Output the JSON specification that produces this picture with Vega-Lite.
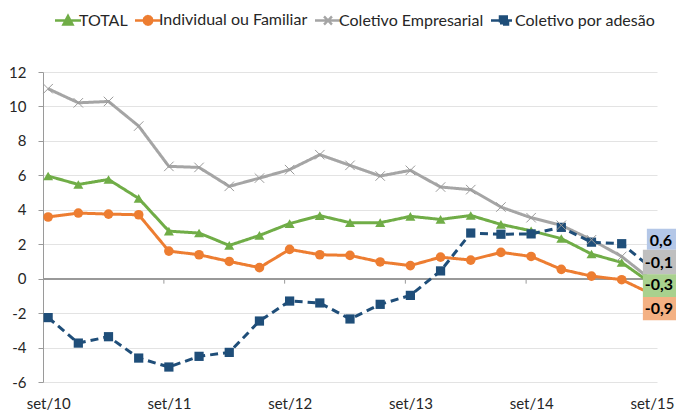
{
  "$schema": "https://vega.github.io/schema/vega-lite/v6.json",
  "autosize": {"type": "none"},
  "width": 614,
  "height": 310,
  "padding": {"left": 43, "top": 72, "right": 19, "bottom": 32},
  "config": {
    "view": {"stroke": null},
    "font": "Lato",
    "axis": {"labelFont": "Lato", "labelFontSize": 15, "labelColor": "#262626", "title": null}
  },
  "data": {"values": [
    {"periodo":"set/10","serie":"TOTAL","valor":5.96},{"periodo":"dez/10","serie":"TOTAL","valor":5.47},{"periodo":"mar/11","serie":"TOTAL","valor":5.76},{"periodo":"jun/11","serie":"TOTAL","valor":4.66},{"periodo":"set/11","serie":"TOTAL","valor":2.76},{"periodo":"dez/11","serie":"TOTAL","valor":2.65},{"periodo":"mar/12","serie":"TOTAL","valor":1.93},{"periodo":"jun/12","serie":"TOTAL","valor":2.51},{"periodo":"set/12","serie":"TOTAL","valor":3.2},{"periodo":"dez/12","serie":"TOTAL","valor":3.66},{"periodo":"mar/13","serie":"TOTAL","valor":3.25},{"periodo":"jun/13","serie":"TOTAL","valor":3.25},{"periodo":"set/13","serie":"TOTAL","valor":3.62},{"periodo":"dez/13","serie":"TOTAL","valor":3.44},{"periodo":"mar/14","serie":"TOTAL","valor":3.67},{"periodo":"jun/14","serie":"TOTAL","valor":3.15},{"periodo":"set/14","serie":"TOTAL","valor":2.78},{"periodo":"dez/14","serie":"TOTAL","valor":2.33},{"periodo":"mar/15","serie":"TOTAL","valor":1.43},{"periodo":"jun/15","serie":"TOTAL","valor":0.94},{"periodo":"set/15","serie":"TOTAL","valor":-0.3},
    {"periodo":"set/10","serie":"Individual ou Familiar","valor":3.58},{"periodo":"dez/10","serie":"Individual ou Familiar","valor":3.81},{"periodo":"mar/11","serie":"Individual ou Familiar","valor":3.75},{"periodo":"jun/11","serie":"Individual ou Familiar","valor":3.71},{"periodo":"set/11","serie":"Individual ou Familiar","valor":1.6},{"periodo":"dez/11","serie":"Individual ou Familiar","valor":1.39},{"periodo":"mar/12","serie":"Individual ou Familiar","valor":1.0},{"periodo":"jun/12","serie":"Individual ou Familiar","valor":0.64},{"periodo":"set/12","serie":"Individual ou Familiar","valor":1.7},{"periodo":"dez/12","serie":"Individual ou Familiar","valor":1.39},{"periodo":"mar/13","serie":"Individual ou Familiar","valor":1.35},{"periodo":"jun/13","serie":"Individual ou Familiar","valor":0.97},{"periodo":"set/13","serie":"Individual ou Familiar","valor":0.76},{"periodo":"dez/13","serie":"Individual ou Familiar","valor":1.25},{"periodo":"mar/14","serie":"Individual ou Familiar","valor":1.08},{"periodo":"jun/14","serie":"Individual ou Familiar","valor":1.53},{"periodo":"set/14","serie":"Individual ou Familiar","valor":1.29},{"periodo":"dez/14","serie":"Individual ou Familiar","valor":0.54},{"periodo":"mar/15","serie":"Individual ou Familiar","valor":0.15},{"periodo":"jun/15","serie":"Individual ou Familiar","valor":-0.06},{"periodo":"set/15","serie":"Individual ou Familiar","valor":-0.9},
    {"periodo":"set/10","serie":"Coletivo Empresarial","valor":11.03},{"periodo":"dez/10","serie":"Coletivo Empresarial","valor":10.21},{"periodo":"mar/11","serie":"Coletivo Empresarial","valor":10.29},{"periodo":"jun/11","serie":"Coletivo Empresarial","valor":8.86},{"periodo":"set/11","serie":"Coletivo Empresarial","valor":6.52},{"periodo":"dez/11","serie":"Coletivo Empresarial","valor":6.46},{"periodo":"mar/12","serie":"Coletivo Empresarial","valor":5.36},{"periodo":"jun/12","serie":"Coletivo Empresarial","valor":5.84},{"periodo":"set/12","serie":"Coletivo Empresarial","valor":6.33},{"periodo":"dez/12","serie":"Coletivo Empresarial","valor":7.2},{"periodo":"mar/13","serie":"Coletivo Empresarial","valor":6.58},{"periodo":"jun/13","serie":"Coletivo Empresarial","valor":5.96},{"periodo":"set/13","serie":"Coletivo Empresarial","valor":6.29},{"periodo":"dez/13","serie":"Coletivo Empresarial","valor":5.32},{"periodo":"mar/14","serie":"Coletivo Empresarial","valor":5.17},{"periodo":"jun/14","serie":"Coletivo Empresarial","valor":4.16},{"periodo":"set/14","serie":"Coletivo Empresarial","valor":3.54},{"periodo":"dez/14","serie":"Coletivo Empresarial","valor":3.1},{"periodo":"mar/15","serie":"Coletivo Empresarial","valor":2.26},{"periodo":"jun/15","serie":"Coletivo Empresarial","valor":1.29},{"periodo":"set/15","serie":"Coletivo Empresarial","valor":-0.1},
    {"periodo":"set/10","serie":"Coletivo por adesão","valor":-2.26},{"periodo":"dez/10","serie":"Coletivo por adesão","valor":-3.74},{"periodo":"mar/11","serie":"Coletivo por adesão","valor":-3.37},{"periodo":"jun/11","serie":"Coletivo por adesão","valor":-4.61},{"periodo":"set/11","serie":"Coletivo por adesão","valor":-5.13},{"periodo":"dez/11","serie":"Coletivo por adesão","valor":-4.51},{"periodo":"mar/12","serie":"Coletivo por adesão","valor":-4.28},{"periodo":"jun/12","serie":"Coletivo por adesão","valor":-2.46},{"periodo":"set/12","serie":"Coletivo por adesão","valor":-1.3},{"periodo":"dez/12","serie":"Coletivo por adesão","valor":-1.41},{"periodo":"mar/13","serie":"Coletivo por adesão","valor":-2.34},{"periodo":"jun/13","serie":"Coletivo por adesão","valor":-1.49},{"periodo":"set/13","serie":"Coletivo por adesão","valor":-0.97},{"periodo":"dez/13","serie":"Coletivo por adesão","valor":0.45},{"periodo":"mar/14","serie":"Coletivo por adesão","valor":2.65},{"periodo":"jun/14","serie":"Coletivo por adesão","valor":2.58},{"periodo":"set/14","serie":"Coletivo por adesão","valor":2.6},{"periodo":"dez/14","serie":"Coletivo por adesão","valor":2.98},{"periodo":"mar/15","serie":"Coletivo por adesão","valor":2.12},{"periodo":"jun/15","serie":"Coletivo por adesão","valor":2.03},{"periodo":"set/15","serie":"Coletivo por adesão","valor":0.6}
  ]},
  "encoding": {
    "x": {"field": "periodo", "type": "ordinal",
      "scale": {"type": "point", "padding": 0.17, "domain": ["set/10","dez/10","mar/11","jun/11","set/11","dez/11","mar/12","jun/12","set/12","dez/12","mar/13","jun/13","set/13","dez/13","mar/14","jun/14","set/14","dez/14","mar/15","jun/15","set/15"]},
      "axis": {"values": ["set/10","set/11","set/12","set/13","set/14","set/15"], "labelAngle": 0, "domain": false, "ticks": false, "grid": false, "labelPadding": 14}},
    "y": {"field": "valor", "type": "quantitative",
      "scale": {"domain": [-6, 12], "nice": false, "zero": false},
      "axis": {"values": [-6,-4,-2,0,2,4,6,8,10,12], "labelExpr": "replace(datum.label, '−', '-')", "grid": true, "gridColor": "#E3E3E3", "gridWidth": 1, "domainColor": "#9A9A9A", "tickColor": "#9A9A9A", "tickSize": 5, "labelPadding": 12}}
  },
  "layer": [
    {"mark": {"type": "rule", "color": "#9A9A9A", "strokeWidth": 1}, "encoding": {"y": {"datum": 0}, "x": {"value": 0}, "x2": {"value": 614}}},
    {"transform": [{"filter": "datum.serie === 'TOTAL' && indexof(['set/11','set/12','set/13','set/14'], datum.periodo) >= 0"}],
      "mark": {"type": "rule", "color": "#9A9A9A", "strokeWidth": 1, "xOffset": -5},
      "encoding": {"y": {"datum": 0}, "y2": {"datum": -0.29}}},
    {"mark": {"type": "line", "strokeWidth": 3},
      "encoding": {
        "color": {"field": "serie", "type": "nominal",
          "scale": {"domain": ["TOTAL","Individual ou Familiar","Coletivo Empresarial","Coletivo por adesão"], "range": ["#70AD47","#ED7D31","#A5A5A5","#1F4E79"]},
          "legend": {"orient": "none", "legendX": 9, "legendY": -60, "direction": "horizontal", "title": null, "padding": 0,
            "symbolSize": 100, "symbolStrokeWidth": 2.5, "labelFont": "Lato", "labelFontSize": 16, "labelColor": "#262626", "labelOffset": 11, "columnPadding": 2, "labelLimit": 300,
            "encode": {"symbols": {"update": {
              "shape": {"signal": "datum.value==='TOTAL' ? 'M-1,0H4.2M0.7,0.8L1.6,-0.9L2.5,0.8Z' : datum.value==='Individual ou Familiar' ? 'M-1,0H4.2M2.45,0L2.336,0.425L2.025,0.736L1.6,0.85L1.175,0.736L0.864,0.425L0.75,0L0.864,-0.425L1.175,-0.736L1.6,-0.85L2.025,-0.736L2.336,-0.425Z' : datum.value==='Coletivo Empresarial' ? 'M-1,0H4.2M0.8,-0.8L2.4,0.8M0.8,0.8L2.4,-0.8' : 'M-1,0H4.2M0.8,-0.8H2.4V0.8H0.8Z'"},
              "fill": {"signal": "datum.value==='TOTAL' ? '#70AD47' : datum.value==='Individual ou Familiar' ? '#ED7D31' : datum.value==='Coletivo por adesão' ? '#1F4E79' : 'transparent'"},
              "stroke": {"signal": "datum.value==='TOTAL' ? '#70AD47' : datum.value==='Individual ou Familiar' ? '#ED7D31' : datum.value==='Coletivo por adesão' ? '#1F4E79' : '#A5A5A5'"},
              "fillOpacity": {"value": 1}, "strokeOpacity": {"value": 1}, "opacity": {"value": 1}, "strokeDash": {"value": []}
            }}}}},
        "strokeDash": {"field": "serie", "type": "nominal", "legend": null,
          "scale": {"domain": ["TOTAL","Individual ou Familiar","Coletivo Empresarial","Coletivo por adesão"], "range": [[1,0],[1,0],[1,0],[8,5]]}}
      }},
    {"transform": [{"filter": "datum.serie !== 'Coletivo Empresarial'"}],
      "mark": {"type": "point", "filled": true, "opacity": 1},
      "encoding": {
        "color": {"field": "serie", "type": "nominal"},
        "shape": {"field": "serie", "type": "nominal", "legend": null,
          "scale": {"domain": ["TOTAL","Individual ou Familiar","Coletivo por adesão"], "range": ["triangle-up","circle","square"]}},
        "size": {"field": "serie", "type": "nominal", "legend": null,
          "scale": {"domain": ["TOTAL","Individual ou Familiar","Coletivo por adesão"], "range": [100, 85, 78]}}
      }},
    {"transform": [{"filter": "datum.serie === 'Coletivo Empresarial'"}],
      "mark": {"type": "point", "filled": false, "shape": "M-1,-1L1,1M-1,1L1,-1", "size": 90, "strokeWidth": 1, "color": "#9A9A9A", "opacity": 1},
      "encoding": {}},
    {"transform": [{"filter": "datum.periodo === 'set/15' && datum.serie === 'Coletivo por adesão'"}],
      "mark": {"type": "point", "filled": true, "opacity": 1, "color": "#B4C7E7", "size": 400, "shape": "M-0.5,-3.97H2.9V-1.87H-0.5Z"}, "encoding": {}},
    {"transform": [{"filter": "datum.periodo === 'set/15' && datum.serie === 'Coletivo Empresarial'"}],
      "mark": {"type": "point", "filled": true, "opacity": 1, "color": "#BFBFBF", "size": 400, "shape": "M-0.9,-3.07H2.9V-0.6H-0.9Z"}, "encoding": {}},
    {"transform": [{"filter": "datum.periodo === 'set/15' && datum.serie === 'TOTAL'"}],
      "mark": {"type": "point", "filled": true, "opacity": 1, "color": "#A9D18E", "size": 400, "shape": "M-0.9,-0.95H2.9V1.32H-0.9Z"}, "encoding": {}},
    {"transform": [{"filter": "datum.periodo === 'set/15' && datum.serie === 'Individual ou Familiar'"}],
      "mark": {"type": "point", "filled": true, "opacity": 1, "color": "#F4B183", "size": 400, "shape": "M-0.9,0.29H2.9V2.62H-0.9Z"}, "encoding": {}},
    {"transform": [{"filter": "datum.periodo === 'set/15' && datum.serie === 'Coletivo por adesão'"}, {"calculate": "(datum.valor < 0 ? '-' : '') + replace(format(abs(datum.valor), '.1f'), '.', ',')", "as": "rotulo"}],
      "mark": {"type": "text", "font": "Lato", "fontWeight": "bold", "fontSize": 16, "color": "#000000", "dx": 9, "dy": -27.3, "baseline": "middle", "align": "center"},
      "encoding": {"text": {"field": "rotulo"}}},
    {"transform": [{"filter": "datum.periodo === 'set/15' && datum.serie === 'Coletivo Empresarial'"}, {"calculate": "(datum.valor < 0 ? '-' : '') + replace(format(abs(datum.valor), '.1f'), '.', ',')", "as": "rotulo"}],
      "mark": {"type": "text", "font": "Lato", "fontWeight": "bold", "fontSize": 16, "color": "#000000", "dx": 7, "dy": -17.3, "baseline": "middle", "align": "center"},
      "encoding": {"text": {"field": "rotulo"}}},
    {"transform": [{"filter": "datum.periodo === 'set/15' && datum.serie === 'TOTAL'"}, {"calculate": "(datum.valor < 0 ? '-' : '') + replace(format(abs(datum.valor), '.1f'), '.', ',')", "as": "rotulo"}],
      "mark": {"type": "text", "font": "Lato", "fontWeight": "bold", "fontSize": 16, "color": "#000000", "dx": 7, "dy": 1.5, "baseline": "middle", "align": "center"},
      "encoding": {"text": {"field": "rotulo"}}},
    {"transform": [{"filter": "datum.periodo === 'set/15' && datum.serie === 'Individual ou Familiar'"}, {"calculate": "(datum.valor < 0 ? '-' : '') + replace(format(abs(datum.valor), '.1f'), '.', ',')", "as": "rotulo"}],
      "mark": {"type": "text", "font": "Lato", "fontWeight": "bold", "fontSize": 16, "color": "#000000", "dx": 7, "dy": 14.5, "baseline": "middle", "align": "center"},
      "encoding": {"text": {"field": "rotulo"}}}
  ]
}
